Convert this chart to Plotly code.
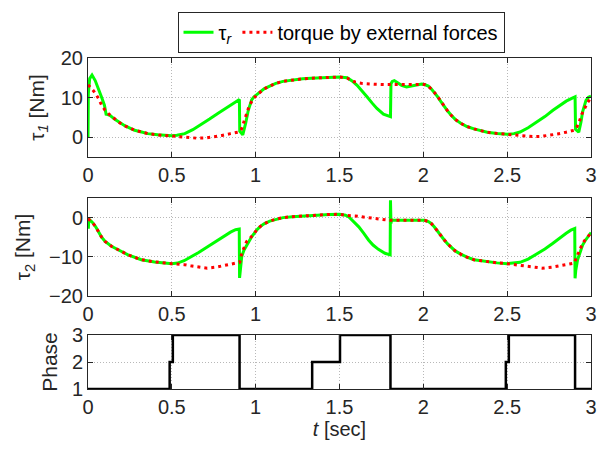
import plotly.graph_objects as go
from plotly.subplots import make_subplots

# ---------------- data ----------------
t1_red = [0, 0.02, 0.04, 0.063, 0.08, 0.102, 0.131, 0.16, 0.19, 0.219, 0.25, 0.278, 0.32, 0.357, 0.416, 0.5,
          0.55, 0.6, 0.65, 0.7, 0.75, 0.8, 0.85, 0.9, 0.915, 0.93, 0.945, 0.96, 0.976, 0.99, 1.005, 1.025, 1.05,
          1.084, 1.12, 1.163, 1.22, 1.28, 1.33, 1.379, 1.44, 1.5, 1.546, 1.57, 1.595, 1.63, 1.673, 1.72, 1.771,
          1.85, 1.95, 2.007, 2.03, 2.047, 2.066, 2.086, 2.105, 2.125, 2.145, 2.165, 2.19, 2.223, 2.26, 2.302,
          2.34, 2.381, 2.44, 2.5, 2.55, 2.6, 2.65, 2.7, 2.75, 2.8, 2.85, 2.9, 2.915, 2.93, 2.945, 2.96, 2.98, 3.0]
tau1_red = [13.2, 12.4, 11.3, 9.75, 8.2, 6.8, 5.6, 4.5, 3.6, 2.9, 2.3, 1.75, 1.3, 0.9, 0.6, 0.3,
            0.1, -0.1, -0.25, -0.2, 0.1, 0.45, 0.9, 1.3, 2.0, 4.0, 6.0, 7.7, 9.0, 10.0, 10.7, 11.3, 12.2,
            12.9, 13.6, 14.1, 14.5, 14.75, 14.9, 15.0, 15.1, 15.2, 14.9, 14.5, 13.9, 13.6, 13.4, 13.35, 13.3,
            13.3, 13.3, 13.3, 12.9, 12.25, 11.3, 10.2, 9.0, 7.7, 6.6, 5.6, 4.5, 3.5, 2.7, 2.1,
            1.6, 1.25, 0.95, 0.75, 0.5, 0.3, 0.15, 0.2, 0.45, 0.8, 1.25, 1.75, 2.5, 3.9, 5.8, 7.25, 8.8, 10.0]

t1_green = [0, 0.002, 0.01, 0.024, 0.043, 0.063, 0.08, 0.098, 0.108, 0.118, 0.131, 0.16, 0.19, 0.219, 0.25,
            0.278, 0.32, 0.357, 0.416, 0.5, 0.53, 0.577, 0.625, 0.675, 0.725, 0.774, 0.825, 0.873, 0.903,
            0.905, 0.915, 0.923, 0.94, 0.956, 0.976, 0.99, 1.005, 1.025, 1.05, 1.084, 1.12, 1.163, 1.22, 1.28,
            1.33, 1.379, 1.44, 1.5, 1.546, 1.575, 1.605, 1.635, 1.664, 1.695, 1.723, 1.762, 1.785, 1.804,
            1.807, 1.815, 1.827, 1.85, 1.87, 1.9, 1.93, 1.958, 1.99, 2.007, 2.03, 2.047, 2.066, 2.086, 2.105,
            2.125, 2.145, 2.165, 2.19, 2.223, 2.26, 2.302, 2.34, 2.381, 2.44, 2.5, 2.54, 2.577, 2.625, 2.675,
            2.725, 2.773, 2.81, 2.852, 2.885, 2.905, 2.908, 2.92, 2.927, 2.94, 2.95, 2.97, 2.985, 3.0]
tau1_green = [0, 11.0, 14.8, 15.7, 14.3, 12.3, 10.2, 8.1, 5.8, 5.7, 5.5, 4.5, 3.6, 2.9, 2.3,
              1.75, 1.3, 0.9, 0.6, 0.35, 0.5, 0.9, 1.9, 3.2, 4.6, 6.0, 7.4, 8.9, 9.5,
              1.5, 1.0, 0.6, 3.5, 6.8, 9.4, 10.2, 10.7, 11.3, 12.2, 12.9, 13.6, 14.1, 14.5, 14.75,
              14.9, 15.0, 15.1, 15.2, 15.0, 14.2, 13.1, 11.7, 10.2, 8.6, 7.25, 5.8, 5.4, 5.2,
              13.5, 14.1, 14.3, 13.7, 13.1, 12.7, 12.9, 13.2, 13.4, 13.3, 12.9, 12.25, 11.3, 10.2, 9.0,
              7.7, 6.6, 5.6, 4.5, 3.5, 2.7, 2.1, 1.6, 1.25, 0.95, 0.75, 0.9, 1.3, 2.4, 3.7,
              5.2, 6.8, 7.9, 9.1, 9.8, 10.2, 2.0, 1.4, 1.25, 3.8, 6.4, 9.3, 10.1, 10.4]

t2_red = [0, 0.024, 0.045, 0.063, 0.08, 0.102, 0.14, 0.18, 0.239, 0.318, 0.397, 0.5, 0.55, 0.573, 0.612,
          0.652, 0.711, 0.77, 0.81, 0.849, 0.897, 0.905, 0.917, 0.93, 0.946, 0.96, 0.976, 0.99, 1.005, 1.025,
          1.05, 1.084, 1.12, 1.163, 1.22, 1.28, 1.33, 1.379, 1.44, 1.5, 1.536, 1.595, 1.63, 1.673, 1.71,
          1.752, 1.801, 1.9, 2.007, 2.03, 2.047, 2.066, 2.086, 2.105, 2.125, 2.145, 2.165, 2.19, 2.223, 2.26,
          2.302, 2.34, 2.381, 2.44, 2.5, 2.577, 2.63, 2.675, 2.71, 2.773, 2.81, 2.852, 2.9, 2.92, 2.935,
          2.95, 2.965, 2.98, 3.0]
tau2_red = [-0.3, -1.1, -2.3, -3.6, -4.9, -6.1, -7.3, -8.2, -9.5, -10.75, -11.3, -11.75, -11.9, -12.0, -12.3,
            -12.6, -12.9, -12.6, -12.3, -12.0, -11.6, -11.4, -9.1, -7.6, -6.1, -5.5, -4.9, -4.2, -3.2, -2.35,
            -1.6, -0.9, -0.4, 0.0, 0.25, 0.4, 0.6, 0.75, 0.8, 0.85, 0.6, 0.4, 0.2, -0.1, -0.25,
            -0.4, -0.7, -0.7, -0.7, -1.0, -1.5, -2.4, -3.6, -4.7, -5.7, -6.7, -7.6, -8.5, -9.3, -10.1,
            -10.75, -11.0, -11.3, -11.55, -11.75, -12.2, -12.5, -12.7, -12.9, -12.6, -12.3, -12.0, -11.6, -9.5, -8.0,
            -6.55, -5.7, -4.9, -3.9]

t2_green = [0, 0.002, 0.005, 0.024, 0.045, 0.063, 0.08, 0.102, 0.14, 0.18, 0.239, 0.318, 0.397, 0.5,
            0.534, 0.573, 0.613, 0.66, 0.711, 0.76, 0.809, 0.85, 0.88, 0.902, 0.904, 0.908, 0.917, 0.93,
            0.946, 0.96, 0.976, 0.99, 1.005, 1.025, 1.05, 1.084, 1.12, 1.163, 1.22, 1.28, 1.33, 1.379, 1.44,
            1.5, 1.536, 1.556, 1.585, 1.615, 1.645, 1.673, 1.7, 1.732, 1.771, 1.802, 1.804, 1.807, 1.81,
            1.815, 1.9, 2.007, 2.03, 2.047, 2.066, 2.086, 2.105, 2.125, 2.145, 2.165, 2.19, 2.223, 2.26, 2.302,
            2.34, 2.381, 2.44, 2.5, 2.54, 2.577, 2.625, 2.675, 2.725, 2.773, 2.81, 2.852, 2.88, 2.903, 2.905,
            2.909, 2.92, 2.935, 2.95, 2.965, 2.98, 3.0]
tau2_green = [-0.1, -2.8, -0.4, -1.1, -2.3, -3.6, -4.9, -6.1, -7.3, -8.2, -9.5, -10.75, -11.3, -11.75,
              -11.6, -11.0, -10.1, -8.9, -7.5, -6.1, -4.8, -3.7, -3.1, -2.9, -15.4, -13.5, -9.9, -8.3,
              -7.0, -5.9, -4.9, -4.1, -3.2, -2.35, -1.6, -0.9, -0.4, 0.0, 0.25, 0.4, 0.6, 0.75, 0.8,
              0.85, 0.6, 0.15, -1.0, -2.35, -4.0, -5.7, -7.0, -8.1, -9.1, -9.5, 4.4, -1.5, -0.5,
              -0.7, -0.7, -0.7, -1.0, -1.5, -2.4, -3.6, -4.7, -5.7, -6.7, -7.6, -8.5, -9.3, -10.1, -10.75,
              -11.0, -11.3, -11.55, -11.75, -11.6, -11.4, -10.6, -9.4, -8.0, -6.55, -5.3, -4.0, -3.2, -2.8, -15.5,
              -13.5, -10.75, -8.7, -7.0, -5.9, -4.9, -3.8]

t_phase = [0, 0.487, 0.506, 0.904, 1.337, 1.503, 1.804, 2.492, 2.51, 2.905, 3.0]
phase = [1, 2, 3, 1, 2, 3, 1, 2, 3, 1, 1]

x_ticks = [0, 0.5, 1, 1.5, 2, 2.5, 3]
x_ticktext = ["0", "0.5", "1", "1.5", "2", "2.5", "3"]

# ---------------- figure ----------------
GREEN = "#00FF00"
RED = "#FF0000"
AX = "#262626"
GRID = "rgba(0,0,0,0.28)"
FONT = "Liberation Sans, Arial, sans-serif"

fig = make_subplots(rows=3, cols=1)

fig.add_trace(go.Scatter(x=t1_green, y=tau1_green, mode="lines", name="τ<sub><i>r</i></sub>",
                         line=dict(color=GREEN, width=3)), row=1, col=1)
fig.add_trace(go.Scatter(x=t1_red, y=tau1_red, mode="lines", name="torque by external forces",
                         line=dict(color=RED, width=3, dash="3px,4px")), row=1, col=1)
fig.add_trace(go.Scatter(x=t2_green, y=tau2_green, mode="lines", showlegend=False,
                         line=dict(color=GREEN, width=3)), row=2, col=1)
fig.add_trace(go.Scatter(x=t2_red, y=tau2_red, mode="lines", showlegend=False,
                         line=dict(color=RED, width=3, dash="3px,4px")), row=2, col=1)
fig.add_trace(go.Scatter(x=t_phase, y=phase, mode="lines", showlegend=False, line_shape="hv",
                         line=dict(color="black", width=2.5), cliponaxis=False), row=3, col=1)

common_x = dict(range=[0, 3], tickvals=x_ticks, ticktext=x_ticktext, showgrid=True,
                gridcolor=GRID, griddash="1px,2px", gridwidth=1, zeroline=False,
                showline=True, linecolor=AX, linewidth=1, mirror="ticks", ticks="inside",
                ticklen=5, tickcolor=AX, tickfont=dict(size=20, color=AX, family=FONT))
common_y = dict(showgrid=True, gridcolor=GRID, griddash="1px,2px", gridwidth=1,
                zeroline=False, showline=True, linecolor=AX, linewidth=1, mirror="ticks",
                ticks="inside", ticklen=5, tickcolor=AX, tickfont=dict(size=20, color=AX, family=FONT))

TITLE_FONT = dict(size=21, color=AX, family=FONT)

fig.update_layout(
    xaxis=dict(common_x, domain=[0, 1], anchor="y"),
    xaxis2=dict(common_x, domain=[0, 1], anchor="y2"),
    xaxis3=dict(common_x, domain=[0, 1], anchor="y3",
                title=dict(text="<i>t</i> [sec]", font=dict(size=20, color=AX, family=FONT), standoff=4)),
    yaxis=dict(common_y, domain=[0.7009, 1.0], range=[-5, 20], tickvals=[0, 10, 20],
               title=dict(text="τ<sub><i>1</i></sub> [Nm]", font=TITLE_FONT, standoff=10)),
    yaxis2=dict(common_y, domain=[0.281, 0.577], range=[-20, 5], tickvals=[-20, -10, 0],
                title=dict(text="τ<sub>2</sub> [Nm]", font=TITLE_FONT, standoff=12)),
    yaxis3=dict(common_y, domain=[0.0, 0.163], range=[1, 3], tickvals=[1, 2, 3],
                title=dict(text="Phase", font=TITLE_FONT, standoff=8)),
    width=606, height=450,
    margin=dict(l=88, r=9, t=58, b=61),
    paper_bgcolor="white", plot_bgcolor="white",
    font=dict(family=FONT, size=20, color="black"),
    legend=dict(orientation="h", x=0.503, xanchor="center", y=1.14, yanchor="top",
                bordercolor=AX, borderwidth=1, bgcolor="white",
                font=dict(size=20, color="black", family=FONT),
                itemwidth=30, tracegroupgap=0),
)

fig.write_html("out.html")
